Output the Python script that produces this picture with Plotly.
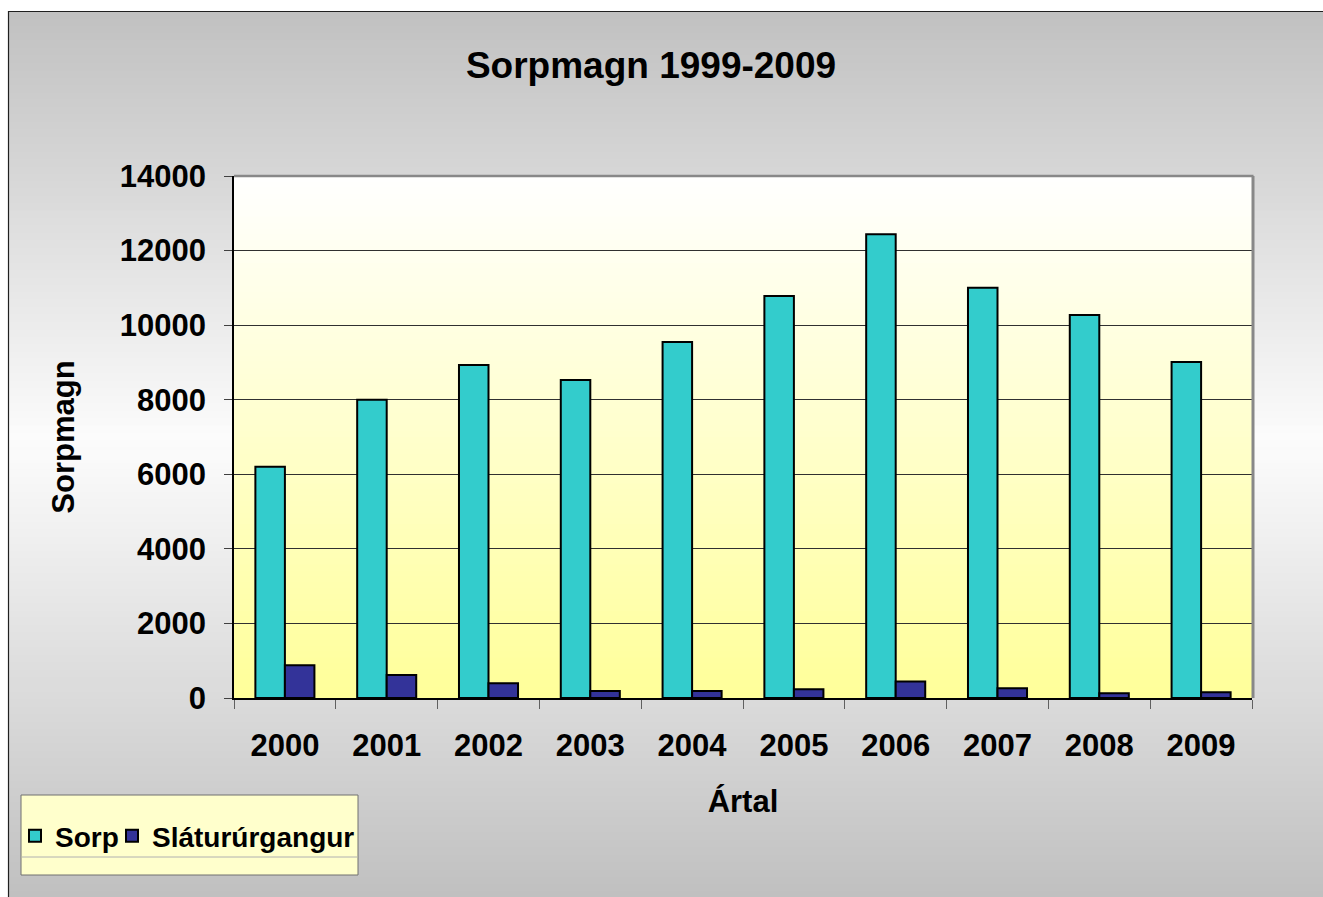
import plotly.graph_objects as go

years = ["2000", "2001", "2002", "2003", "2004", "2005", "2006", "2007", "2008", "2009"]
sorp = [6200, 8000, 8930, 8530, 9550, 10780, 12440, 11000, 10270, 9010]
slatur = [880, 620, 395, 190, 190, 235, 440, 260, 125, 155]
y_ticks = [0, 2000, 4000, 6000, 8000, 10000, 12000, 14000]

W, H = 1323, 897
L, R, T, B = 234, 1252, 176, 698
FONT = "Liberation Sans, Arial, sans-serif"


def px_x(p):
    return (p - L) / (R - L)


def px_y(p):
    return (B - p) / (B - T)


def lerp(c1, c2, t):
    return tuple(round(a + (b - a) * t) for a, b in zip(c1, c2))


shapes = []
# outer gray gradient frame (dark top -> light middle -> dark bottom)
top_c, mid_c = (192, 192, 192), (252, 252, 252)
y0, y1, ymid = 11, H + 2, 440
n = 120
for i in range(n):
    a = y0 + (y1 - y0) * i / n
    b = y0 + (y1 - y0) * (i + 1) / n + 0.8
    yc = (a + b) / 2
    if yc < ymid:
        t = (yc - y0) / (ymid - y0)
    else:
        t = (y1 - yc) / (y1 - ymid)
    c = lerp(top_c, mid_c, max(0, min(1, t)))
    shapes.append(dict(type="rect", xref="paper", yref="paper", layer="below",
                       x0=px_x(8), x1=px_x(W + 2), y0=px_y(a), y1=px_y(b),
                       fillcolor="rgb(%d,%d,%d)" % c, line=dict(width=0)))
# frame border left/top
shapes.append(dict(type="line", xref="paper", yref="paper", layer="below",
                   x0=px_x(8.5), x1=px_x(8.5), y0=px_y(11), y1=px_y(H + 2),
                   line=dict(color="#202020", width=1.2)))
shapes.append(dict(type="line", xref="paper", yref="paper", layer="below",
                   x0=px_x(8), x1=px_x(W + 2), y0=px_y(11.5), y1=px_y(11.5),
                   line=dict(color="#202020", width=1.2)))
# plot area gradient white -> yellow
n2 = 90
for i in range(n2):
    a = T + (B - T) * i / n2
    b = T + (B - T) * (i + 1) / n2 + 0.8
    t = (i + 0.5) / n2
    c = lerp((255, 255, 255), (255, 255, 153), t)
    shapes.append(dict(type="rect", xref="paper", yref="paper", layer="below",
                       x0=0, x1=1, y0=px_y(a), y1=px_y(min(b, B)),
                       fillcolor="rgb(%d,%d,%d)" % c, line=dict(width=0)))
# gray top/right plot border
shapes.append(dict(type="line", xref="paper", yref="paper", layer="above",
                   x0=0, x1=1 + 1.5 / (R - L), y0=1, y1=1,
                   line=dict(color="#888888", width=2.5)))
shapes.append(dict(type="line", xref="paper", yref="paper", layer="above",
                   x0=1 + 1 / (R - L), x1=1 + 1 / (R - L), y0=0, y1=1,
                   line=dict(color="#888888", width=3)))
# legend box
shapes.append(dict(type="rect", xref="paper", yref="paper", layer="below",
                   x0=px_x(21), x1=px_x(358), y0=px_y(795), y1=px_y(875),
                   fillcolor="#ffffcc", line=dict(color="#707070", width=1)))
shapes.append(dict(type="line", xref="paper", yref="paper", layer="below",
                   x0=px_x(22), x1=px_x(357), y0=px_y(857), y1=px_y(857),
                   line=dict(color="#b0b0b0", width=1)))

fig = go.Figure()
fig.add_trace(go.Bar(x=years, y=sorp, name="Sorp", legend="legend",
                     marker=dict(color="#33cccc", line=dict(color="black", width=2))))
fig.add_trace(go.Bar(x=years, y=slatur, name="Sláturúrgangur", legend="legend2",
                     marker=dict(color="#333399", line=dict(color="black", width=2))))

leg_common = dict(orientation="h", xanchor="left", yanchor="middle",
                  bgcolor="rgba(0,0,0,0)", borderwidth=0,
                  font=dict(size=28, family=FONT, weight="bold"), itemwidth=30)

fig.update_layout(
    width=W, height=H,
    margin=dict(l=L, r=W - R, t=T, b=H - B, pad=0),
    paper_bgcolor="white",
    plot_bgcolor="rgba(0,0,0,0)",
    barmode="group",
    bargap=0.42,
    bargroupgap=0,
    font=dict(family=FONT, color="black", size=31),
    title=dict(text="<b>Sorpmagn 1999-2009</b>", x=651 / W, xanchor="center",
               y=1 - 65 / H, yanchor="middle", font=dict(size=37, family=FONT)),
    shapes=shapes,
    showlegend=True,
    legend=dict(x=px_x(15), y=px_y(836), **leg_common),
    legend2=dict(x=px_x(112), y=px_y(836), **leg_common),
    xaxis=dict(
        type="category", tickmode="array", tickvals=years,
        ticktext=["<b>%s</b>" % y for y in years],
        tickson="boundaries", ticks="outside", ticklen=9, tickcolor="#606060",
        tickwidth=1, ticklabelstandoff=19,
        showline=True, linecolor="black", linewidth=1.5,
        showgrid=False, zeroline=False,
        title=dict(text="<b>Ártal</b>", standoff=28, font=dict(size=31, family=FONT)),
    ),
    yaxis=dict(
        range=[0, 14000], tickmode="array", tickvals=y_ticks,
        ticktext=["<b>%d</b>" % v for v in y_ticks],
        ticks="outside", ticklen=8, tickcolor="#404040", tickwidth=1,
        ticklabelstandoff=12,
        showline=True, linecolor="black", linewidth=1.5,
        showgrid=True, gridcolor="#303030", gridwidth=1, zeroline=False,
        title=dict(text="<b>Sorpmagn</b>", standoff=36, font=dict(size=31, family=FONT)),
    ),
)
fig.update_xaxes(range=[-0.5, 9.5])

fig.write_html("out.html", config={"displayModeBar": False},
               post_script="document.body.style.margin='0';document.body.style.overflow='hidden';")
